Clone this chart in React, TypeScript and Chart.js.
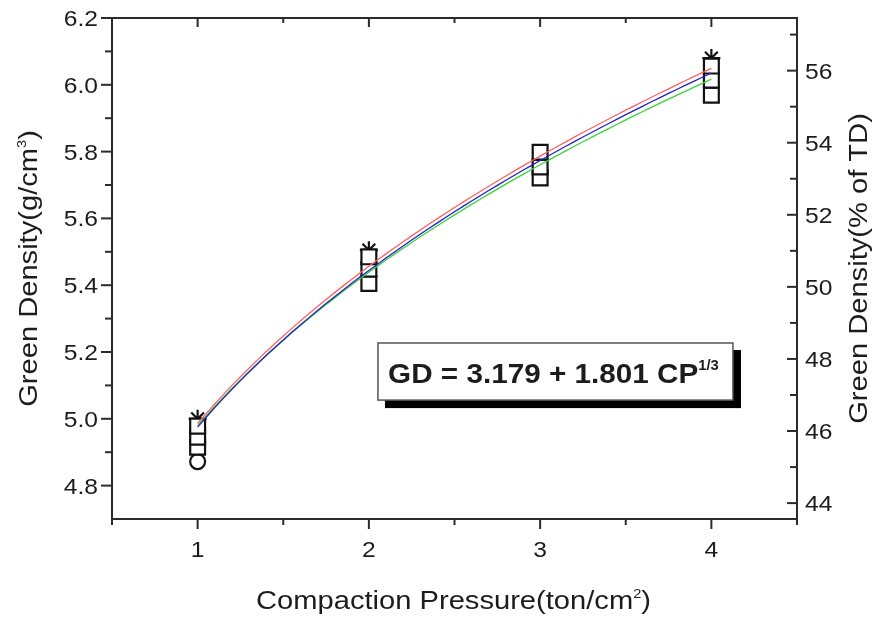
import { useEffect, useRef } from 'react';
import { Chart, registerables } from 'chart.js';

Chart.register(...registerables);

// Compaction pressure (ton/cm^2) at which the pellets were pressed
const PRESSURE = [1, 2, 3, 4];

// Measured green densities (g/cm^3) for each powder batch
const BATCH_SQUARE_A = [4.978, 5.485, 5.798, 6.056];
const BATCH_SQUARE_B = [4.945, 5.448, 5.754, 6.014];
const BATCH_SQUARE_C = [4.915, 5.405, 5.721, 5.969];
const BATCH_CIRCLE = [4.872, null, null, null];
const BATCH_STAR = [5.0, 5.505, null, 6.08];

// Cube-root fits GD = a + b * CP^(1/3), one per batch group
const FIT_INTERCEPT = [3.176, 3.17, 3.215];
const FIT_SLOPE = [1.81, 1.805, 1.765];
const FIT_COLOR = ['#ff6060', '#2222c0', '#3cd23c'];

// Axis ticks
const X_MAJOR = [1, 2, 3, 4];
const X_MINOR = [0.5, 1.5, 2.5, 3.5, 4.5];
const Y_MAJOR = [4.8, 5.0, 5.2, 5.4, 5.6, 5.8, 6.0, 6.2];
const Y_MINOR = [4.9, 5.1, 5.3, 5.5, 5.7, 5.9, 6.1];
const PCT_MAJOR = [44, 46, 48, 50, 52, 54, 56];
const PCT_MINOR = [45, 47, 49, 51, 53, 55, 57];

const THEORETICAL_DENSITY = 10.79; // g/cm^3
const Y_MIN = 4.7;
const Y_MAX = 6.2;

const FONT = '"Liberation Sans", Arial, Helvetica, sans-serif';
const TEXT_COLOR = '#1c1c1c';
const AXIS_COLOR = '#2b2b2b';
const STRETCH = 1.12;

type Part = { text: string; sup?: boolean };

function drawRich(
  ctx: CanvasRenderingContext2D,
  parts: Part[],
  x: number,
  y: number,
  size: number,
  opts: { bold?: boolean; rot?: number; align?: 'left' | 'center' | 'right'; sx?: number } = {}
) {
  const weight = opts.bold ? 'bold ' : '';
  const sx = opts.sx ?? STRETCH;
  const supSize = Math.round(size * 0.5);
  ctx.save();
  ctx.translate(x, y);
  if (opts.rot) ctx.rotate(opts.rot);
  ctx.scale(sx, 1);
  ctx.fillStyle = TEXT_COLOR;
  ctx.textBaseline = 'alphabetic';
  ctx.textAlign = 'left';
  let total = 0;
  const widths = parts.map((p) => {
    ctx.font = `${weight}${p.sup ? supSize : size}px ${FONT}`;
    const w = ctx.measureText(p.text).width;
    total += w;
    return w;
  });
  let cx = opts.align === 'left' ? 0 : opts.align === 'right' ? -total : -total / 2;
  const base = size * 0.36;
  parts.forEach((p, i) => {
    ctx.font = `${weight}${p.sup ? supSize : size}px ${FONT}`;
    ctx.fillText(p.text, cx, p.sup ? base - size * 0.44 : base);
    cx += widths[i];
  });
  ctx.restore();
}

const framePlugin = {
  id: 'originFrame',
  afterDraw(chart: any) {
    const { ctx, chartArea: ca, scales } = chart;
    const xs = scales.x;
    const ys = scales.y;
    const ps = scales.y2;

    ctx.save();
    ctx.strokeStyle = AXIS_COLOR;
    ctx.lineWidth = 2;
    ctx.strokeRect(ca.left, ca.top, ca.right - ca.left, ca.bottom - ca.top);

    const tick = (x1: number, y1: number, x2: number, y2: number) => {
      ctx.beginPath();
      ctx.moveTo(x1, y1);
      ctx.lineTo(x2, y2);
      ctx.stroke();
    };

    // bottom (outward) and top (inward) ticks
    X_MAJOR.forEach((v) => {
      const px = xs.getPixelForValue(v);
      tick(px, ca.bottom, px, ca.bottom + 10);
      tick(px, ca.top, px, ca.top + 9);
    });
    X_MINOR.forEach((v) => {
      const px = xs.getPixelForValue(v);
      tick(px, ca.bottom, px, ca.bottom + 6);
      tick(px, ca.top, px, ca.top + 5);
    });
    // left ticks point outward
    Y_MAJOR.forEach((v) => {
      const py = ys.getPixelForValue(v);
      tick(ca.left - 11, py, ca.left, py);
    });
    Y_MINOR.forEach((v) => {
      const py = ys.getPixelForValue(v);
      tick(ca.left - 7, py, ca.left, py);
    });
    // right (% of TD) ticks point into the plot
    PCT_MAJOR.forEach((v) => {
      const py = ps.getPixelForValue(v);
      tick(ca.right - 10, py, ca.right, py);
    });
    PCT_MINOR.forEach((v) => {
      const py = ps.getPixelForValue(v);
      tick(ca.right - 7, py, ca.right, py);
    });
    ctx.restore();

    // tick labels
    X_MAJOR.forEach((v) => {
      drawRich(ctx, [{ text: String(v) }], xs.getPixelForValue(v), ca.bottom + 30, 22, { align: 'center' });
    });
    Y_MAJOR.forEach((v) => {
      drawRich(ctx, [{ text: v.toFixed(1) }], ca.left - 14, ys.getPixelForValue(v), 22, { align: 'right' });
    });
    PCT_MAJOR.forEach((v) => {
      drawRich(ctx, [{ text: String(v) }], ca.right + 8, ps.getPixelForValue(v), 22, { align: 'left' });
    });

    // axis titles
    const midY = (ca.top + ca.bottom) / 2;
    drawRich(
      ctx,
      [{ text: 'Green Density(g/cm' }, { text: '3', sup: true }, { text: ')' }],
      ca.left - 84,
      midY,
      26,
      { rot: -Math.PI / 2 }
    );
    drawRich(ctx, [{ text: 'Green Density(% of TD)' }], ca.right + 61, midY, 26, { rot: -Math.PI / 2 });
    drawRich(
      ctx,
      [{ text: 'Compaction Pressure(ton/cm' }, { text: '2', sup: true }, { text: ')' }],
      (ca.left + ca.right) / 2 - 1,
      ca.bottom + 81,
      26
    );

    // fit equation box with drop shadow
    const bx1 = xs.getPixelForValue(2.053);
    const bx2 = xs.getPixelForValue(4.126);
    const by1 = ys.getPixelForValue(5.227);
    const by2 = ys.getPixelForValue(5.056);
    ctx.save();
    ctx.fillStyle = '#000';
    ctx.fillRect(bx1 + 7, by1 + 7, bx2 - bx1 + 1, by2 - by1 + 1);
    ctx.fillStyle = '#fff';
    ctx.fillRect(bx1, by1, bx2 - bx1, by2 - by1);
    ctx.strokeStyle = '#555';
    ctx.lineWidth = 1.5;
    ctx.strokeRect(bx1, by1, bx2 - bx1, by2 - by1);
    ctx.restore();
    drawRich(
      ctx,
      [{ text: 'GD = 3.179 + 1.801 CP' }, { text: '1/3', sup: true }],
      (bx1 + bx2) / 2 - 2,
      (by1 + by2) / 2 + 1,
      28,
      { bold: true, sx: 1.06 }
    );
  },
};

function fitCurve(i: number) {
  const pts: { x: number; y: number }[] = [];
  for (let cp = PRESSURE[0]; cp <= PRESSURE[PRESSURE.length - 1] + 1e-9; cp += 0.05) {
    pts.push({ x: cp, y: FIT_INTERCEPT[i] + FIT_SLOPE[i] * Math.cbrt(cp) });
  }
  return pts;
}

function pointsOf(values: (number | null)[]) {
  return PRESSURE.map((x, i) => ({ x, y: values[i] }));
}

const markerBase = {
  showLine: false,
  borderColor: '#111',
  backgroundColor: '#fff',
  pointBorderColor: '#111',
  pointBackgroundColor: '#fff',
  pointBorderWidth: 2.2,
};

export default function App() {
  const ref = useRef<HTMLCanvasElement | null>(null);

  useEffect(() => {
    document.body.style.margin = '0';
    const canvas = ref.current;
    if (!canvas) return;

    const fitSets = FIT_COLOR.map((color, i) => ({
      label: `fit ${i + 1}`,
      data: fitCurve(i),
      showLine: true,
      borderColor: color,
      borderWidth: 1.3,
      pointRadius: 0,
      tension: 0,
      order: i,
    }));

    const chart = new Chart(canvas, {
      type: 'scatter',
      data: {
        datasets: [
          ...fitSets,
          { ...markerBase, label: 'A', data: pointsOf(BATCH_SQUARE_A), pointStyle: 'rect', pointRadius: 10.5, order: 10 },
          { ...markerBase, label: 'B', data: pointsOf(BATCH_SQUARE_B), pointStyle: 'rect', pointRadius: 10.5, order: 11 },
          { ...markerBase, label: 'C', data: pointsOf(BATCH_SQUARE_C), pointStyle: 'rect', pointRadius: 10.5, order: 12 },
          { ...markerBase, label: 'D', data: pointsOf(BATCH_STAR), pointStyle: 'star', pointRadius: 9, order: 13 },
          { ...markerBase, label: 'E', data: pointsOf(BATCH_CIRCLE), pointStyle: 'circle', pointRadius: 7.5, order: 14 },
        ] as any,
      },
      options: {
        animation: false,
        responsive: false,
        events: [],
        layout: { padding: { left: 112, right: 85, top: 18, bottom: 101 } },
        plugins: { legend: { display: false }, tooltip: { enabled: false } },
        scales: {
          x: { type: 'linear', min: 0.5, max: 4.5, display: false },
          y: { type: 'linear', min: Y_MIN, max: Y_MAX, display: false },
          y2: {
            type: 'linear',
            position: 'right',
            min: (Y_MIN / THEORETICAL_DENSITY) * 100,
            max: (Y_MAX / THEORETICAL_DENSITY) * 100,
            display: false,
          },
        },
      },
      plugins: [framePlugin],
    });

    return () => chart.destroy();
  }, []);

  return (
    <div style={{ position: 'absolute', left: 0, top: 0, width: 882, height: 620, background: '#fff' }}>
      <canvas ref={ref} width={882} height={620} style={{ display: 'block' }} />
    </div>
  );
}
